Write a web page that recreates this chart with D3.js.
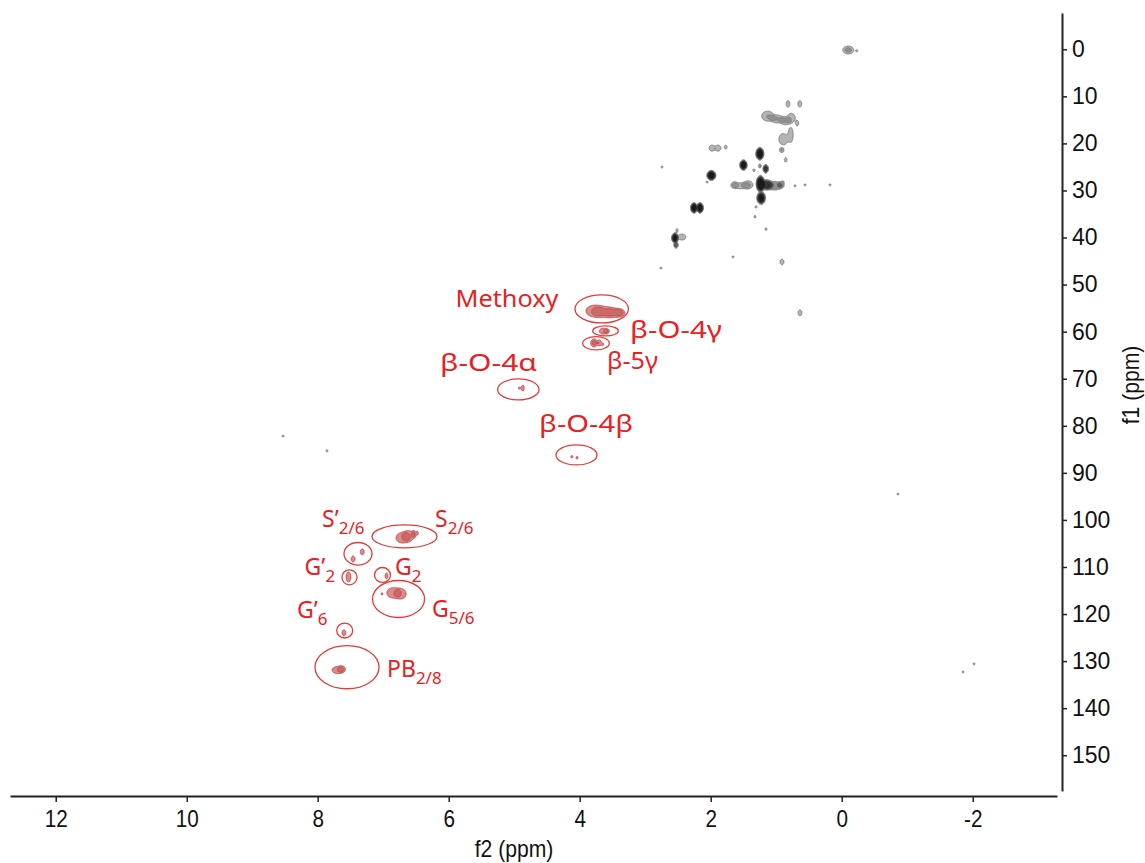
<!DOCTYPE html>
<html>
<head>
<meta charset="utf-8">
<script src="https://cdn.jsdelivr.net/npm/d3@7"></script>
<style>
    body { margin: 0; background: #fff; }
</style>
</head>
<body>
<svg id="chart" width="1145" height="863"></svg>
<script>
// axis ticks (ppm)
const f2Ticks = [12, 10, 8, 6, 4, 2, 0, -2];
const f1Ticks = [0, 10, 20, 30, 40, 50, 60, 70, 80, 90, 100, 110, 120, 130, 140, 150];

// cross peaks outside the marked region: [f2, f1, half width f2, half width f1, height]
const blackPeaks = [
    [-0.10, 0.15, 0.084, 0.85, 2.2],
    [-0.23, 0.30, 0.015, 0.25, 1.3],
    [1.13, 14.2, 0.092, 1.06, 2.0],
    [0.99, 14.8, 0.092, 0.85, 2.0],
    [0.86, 15.2, 0.076, 0.85, 2.0],
    [0.77, 14.6, 0.06, 1.0, 1.6],
    [0.82, 11.6, 0.03, 0.7, 1.6],
    [0.64, 11.6, 0.03, 0.7, 1.6],
    [0.68, 15.7, 0.025, 0.6, 1.5],
    [0.78, 18.2, 0.04, 1.6, 1.6],
    [0.89, 19.1, 0.07, 1.2, 1.8],
    [0.93, 21.4, 0.02, 0.5, 1.5],
    [0.90, 21.4, 0.02, 0.5, 1.5],
    [0.855, 23.5, 0.02, 0.5, 1.5],
    [1.98, 21.0, 0.046, 0.64, 1.8],
    [1.89, 21.0, 0.046, 0.64, 1.8],
    [1.77, 20.8, 0.023, 0.42, 1.4],
    [1.25, 22.2, 0.06, 1.35, 14],
    [1.50, 24.6, 0.055, 1.1, 14],
    [1.16, 25.4, 0.04, 0.9, 8],
    [1.25, 24.8, 0.015, 0.42, 3],
    [1.34, 25.7, 0.015, 0.3, 2],
    [1.24, 28.6, 0.065, 1.8, 16],
    [1.15, 28.8, 0.1, 1.1, 8],
    [1.03, 29.0, 0.13, 0.9, 3],
    [0.93, 28.8, 0.046, 0.64, 2.2],
    [1.55, 29.0, 0.107, 0.64, 1.8],
    [1.43, 28.8, 0.076, 0.85, 2.0],
    [1.64, 28.8, 0.046, 0.64, 1.6],
    [1.23, 31.6, 0.065, 1.35, 12],
    [1.99, 26.8, 0.068, 1.05, 14],
    [2.255, 33.7, 0.05, 1.12, 14],
    [2.164, 33.7, 0.05, 1.12, 14],
    [2.545, 40.1, 0.05, 1.1, 12],
    [2.44, 39.9, 0.061, 0.64, 2.0],
    [2.53, 41.6, 0.03, 0.64, 6],
    [2.515, 38.5, 0.015, 0.42, 1.5],
    [2.744, 25.0, 0.015, 0.25, 1.3],
    [2.056, 28.2, 0.015, 0.25, 1.3],
    [0.896, 28.2, 0.015, 0.25, 1.3],
    [0.713, 29.0, 0.015, 0.25, 1.3],
    [0.56, 28.8, 0.015, 0.25, 1.3],
    [0.179, 28.8, 0.015, 0.25, 1.3],
    [1.308, 33.5, 0.015, 0.3, 1.3],
    [1.324, 35.6, 0.015, 0.3, 1.3],
    [1.156, 38.2, 0.015, 0.3, 1.3],
    [0.911, 45.2, 0.03, 0.6, 1.8],
    [1.66, 44.1, 0.015, 0.25, 1.3],
    [2.76, 46.5, 0.015, 0.25, 1.3],
    [0.637, 56.0, 0.03, 0.64, 1.8],
    [8.53, 82.2, 0.015, 0.25, 1.3],
    [7.86, 85.3, 0.015, 0.25, 1.3],
    [-0.86, 94.5, 0.015, 0.25, 1.3],
    [-2.02, 130.6, 0.015, 0.25, 1.3],
    [-1.85, 132.3, 0.015, 0.25, 1.3]
];

// assigned lignin cross peaks: [f2, f1, half width f2, half width f1, height]
const redPeaks = [
    [3.78, 55.6, 0.125, 1.2, 1.6],
    [3.63, 55.8, 0.14, 1.1, 1.5],
    [3.48, 56.0, 0.125, 0.9, 1.5],
    [3.39, 56.0, 0.065, 0.66, 1.4],
    [3.64, 59.9, 0.061, 0.64, 2.0],
    [3.58, 59.9, 0.03, 0.5, 1.6],
    [3.78, 62.4, 0.053, 0.85, 2.2],
    [3.70, 62.4, 0.03, 0.64, 1.8],
    [3.65, 62.7, 0.015, 0.3, 1.4],
    [4.87, 72.0, 0.023, 0.64, 1.8],
    [4.92, 72.0, 0.012, 0.2, 1.3],
    [4.12, 86.6, 0.015, 0.3, 1.4],
    [4.04, 86.8, 0.015, 0.3, 1.4],
    [6.71, 103.8, 0.095, 1.1, 1.6],
    [6.61, 103.4, 0.08, 1.1, 1.6],
    [6.53, 103.0, 0.03, 0.64, 1.5],
    [6.48, 102.8, 0.015, 0.4, 1.4],
    [7.46, 108.3, 0.03, 0.64, 1.8],
    [7.32, 106.8, 0.03, 0.64, 1.8],
    [7.53, 112.1, 0.038, 1.06, 1.8],
    [6.95, 111.9, 0.023, 0.64, 1.6],
    [6.85, 115.5, 0.095, 1.1, 1.6],
    [6.73, 115.7, 0.08, 1.1, 1.6],
    [7.02, 115.7, 0.012, 0.2, 1.3],
    [7.60, 124.0, 0.03, 0.64, 1.8],
    [7.70, 131.9, 0.08, 0.76, 1.7],
    [7.63, 131.7, 0.05, 0.66, 1.6]
];

// marked regions: [f2 centre, f1 centre, f2 radius, f1 radius]
const regions = [
    [3.664, 55.17, 0.408, 2.97],
    [3.606, 59.85, 0.195, 1.06],
    [3.751, 62.46, 0.203, 1.42],
    [4.937, 72.28, 0.316, 2.23],
    [4.049, 86.19, 0.313, 2.12],
    [6.675, 103.5, 0.496, 2.44],
    [7.385, 107.2, 0.214, 2.4],
    [7.515, 112.2, 0.115, 1.59],
    [7.011, 111.7, 0.122, 1.59],
    [6.766, 116.8, 0.397, 3.93],
    [7.588, 123.5, 0.122, 1.59],
    [7.553, 131.3, 0.489, 4.57]
];

// assignment labels: [text, subscript, f2 (left), f1 (baseline)]
const labels = [
    ["Methoxy", "", 5.896, 54.75],
    ["β-O-4γ", "", 3.232, 61.33],
    ["β-5γ", "", 3.583, 67.9],
    ["β-O-4α", "", 6.133, 68.35],
    ["β-O-4β", "", 4.621, 81.3],
    ["S’", "2/6", 7.934, 101.5],
    ["S", "2/6", 6.209, 101.5],
    ["G’", "2", 8.20, 111.7],
    ["G", "2", 6.82, 111.7],
    ["G", "5/6", 6.255, 120.6],
    ["G’", "6", 8.316, 120.8],
    ["PB", "2/8", 6.942, 133.4]
];

const svg = d3.select("#chart");

const x = d3.scaleLinear().domain([12.698, -3.287]).range([10, 1057]);
const y = d3.scaleLinear().domain([-7.71, 157.6]).range([13, 791]);

// contour grid over the plot, one cell per pixel
const gx0 = 10, gy0 = 13;
const n = 1047, m = 778;
const levels = [1, 2, 3.5, 6, 10];

function field(peaks) {
    const values = new Float64Array(n * m);
    peaks.forEach(([f2, f1, w2, w1, h]) => {
        const cx = x(f2) - gx0,
            cy = y(f1) - gy0;
        const rx = Math.max(1.2, Math.abs(x(f2 + w2) - x(f2))),
            ry = Math.max(1.2, Math.abs(y(f1 + w1) - y(f1)));
        const k = Math.log(h);
        const i0 = Math.max(0, Math.floor(cx - 1.8 * rx)),
            i1 = Math.min(n - 1, Math.ceil(cx + 1.8 * rx));
        const j0 = Math.max(0, Math.floor(cy - 1.8 * ry)),
            j1 = Math.min(m - 1, Math.ceil(cy + 1.8 * ry));
        for (let j = j0; j <= j1; j++) {
            const dy = (j + 0.5 - cy) / ry;
            for (let i = i0; i <= i1; i++) {
                const dx = (i + 0.5 - cx) / rx;
                const q2 = dx * dx + dy * dy;
                if (q2 > 3.24) continue;
                values[j * n + i] += Math.exp(k * (1 - q2 * q2));
            }
        }
    });
    return values;
}

function drawContours(peaks, fills, strokes) {
    const contours = d3.contours().size([n, m]).thresholds(levels)(field(peaks));
    svg.append("g")
        .attr("transform", `translate(${gx0},${gy0})`)
        .selectAll("path")
        .data(contours)
        .join("path")
        .attr("d", d3.geoPath())
        .attr("fill", (d, i) => fills[i])
        .attr("stroke", (d, i) => strokes[i])
        .attr("stroke-width", 0.7)
        .attr("stroke-linejoin", "round");
}

drawContours(blackPeaks,
    ["#b4b4b4", "#909090", "#5e5e5e", "#363636", "#1a1a1a"],
    ["#666", "#777", "#505050", "#303030", "#181818"]);

drawContours(redPeaks,
    ["#dc8a8a", "#cc6a6a", "#b84848", "#a23030", "#8a1c1c"],
    ["#b03030", "#b84040", "#a83030", "#902424", "#7a1616"]);

// marked regions
const red = "#e8211f";
svg.append("g")
    .selectAll("ellipse")
    .data(regions)
    .join("ellipse")
    .attr("cx", d => x(d[0]))
    .attr("cy", d => y(d[1]))
    .attr("rx", d => Math.abs(x(d[0] + d[2]) - x(d[0])))
    .attr("ry", d => Math.abs(y(d[1] + d[3]) - y(d[1])))
    .attr("fill", "none")
    .attr("stroke", "#e43a3a")
    .attr("stroke-width", 1.3);

// the original labels are set in a wider face than the fallback font
const labelWidth = {"Methoxy": 103, "β-O-4γ": 92, "β-5γ": 51, "β-O-4α": 97, "β-O-4β": 94};

const lab = svg.append("g")
    .attr("font-family", "'Noto Sans', 'Open Sans', sans-serif")
    .attr("font-size", 23)
    .attr("fill", red)
    .selectAll("text")
    .data(labels)
    .join("text")
    .attr("x", d => x(d[2]))
    .attr("y", d => y(d[3]));
lab.append("tspan")
    .text(d => d[0])
    .each(function (d) {
        if (labelWidth[d[0]]) {
            d3.select(this)
                .attr("textLength", labelWidth[d[0]])
                .attr("lengthAdjust", "spacingAndGlyphs");
        }
    });
lab.filter(d => d[1])
    .append("tspan")
    .attr("font-size", 17)
    .attr("dy", 7)
    .text(d => d[1]);

// axes
const xAxis = svg.append("g")
    .attr("transform", "translate(0,796)")
    .call(d3.axisBottom(x).tickValues(f2Ticks).tickFormat(d => String(d))
        .tickSize(6).tickSizeOuter(0).tickPadding(9));

const yAxis = svg.append("g")
    .attr("transform", "translate(1062,0)")
    .call(d3.axisRight(y).tickValues(f1Ticks).tickFormat(d => String(d))
        .tickSize(5).tickSizeOuter(0).tickPadding(5));

[xAxis, yAxis].forEach(a => {
    a.select(".domain").attr("stroke", "#222").attr("stroke-width", 2);
    a.selectAll(".tick line").attr("stroke", "#222").attr("stroke-width", 1.5);
    a.selectAll(".tick text")
        .attr("fill", "#111")
        .attr("font-family", "'Liberation Sans', Arial, sans-serif")
        .attr("font-size", 23);
});
xAxis.selectAll(".tick text").attr("transform", "scale(0.9,1)");

svg.append("text")
    .attr("transform", "translate(514,857) scale(0.92,1)")
    .attr("text-anchor", "middle")
    .attr("font-family", "'Liberation Sans', Arial, sans-serif")
    .attr("font-size", 23)
    .attr("fill", "#111")
    .text("f2 (ppm)");

svg.append("text")
    .attr("transform", "translate(1139,385) rotate(-90) scale(0.92,1)")
    .attr("text-anchor", "middle")
    .attr("font-family", "'Liberation Sans', Arial, sans-serif")
    .attr("font-size", 23)
    .attr("fill", "#111")
    .text("f1 (ppm)");
</script>
</body>
</html>
